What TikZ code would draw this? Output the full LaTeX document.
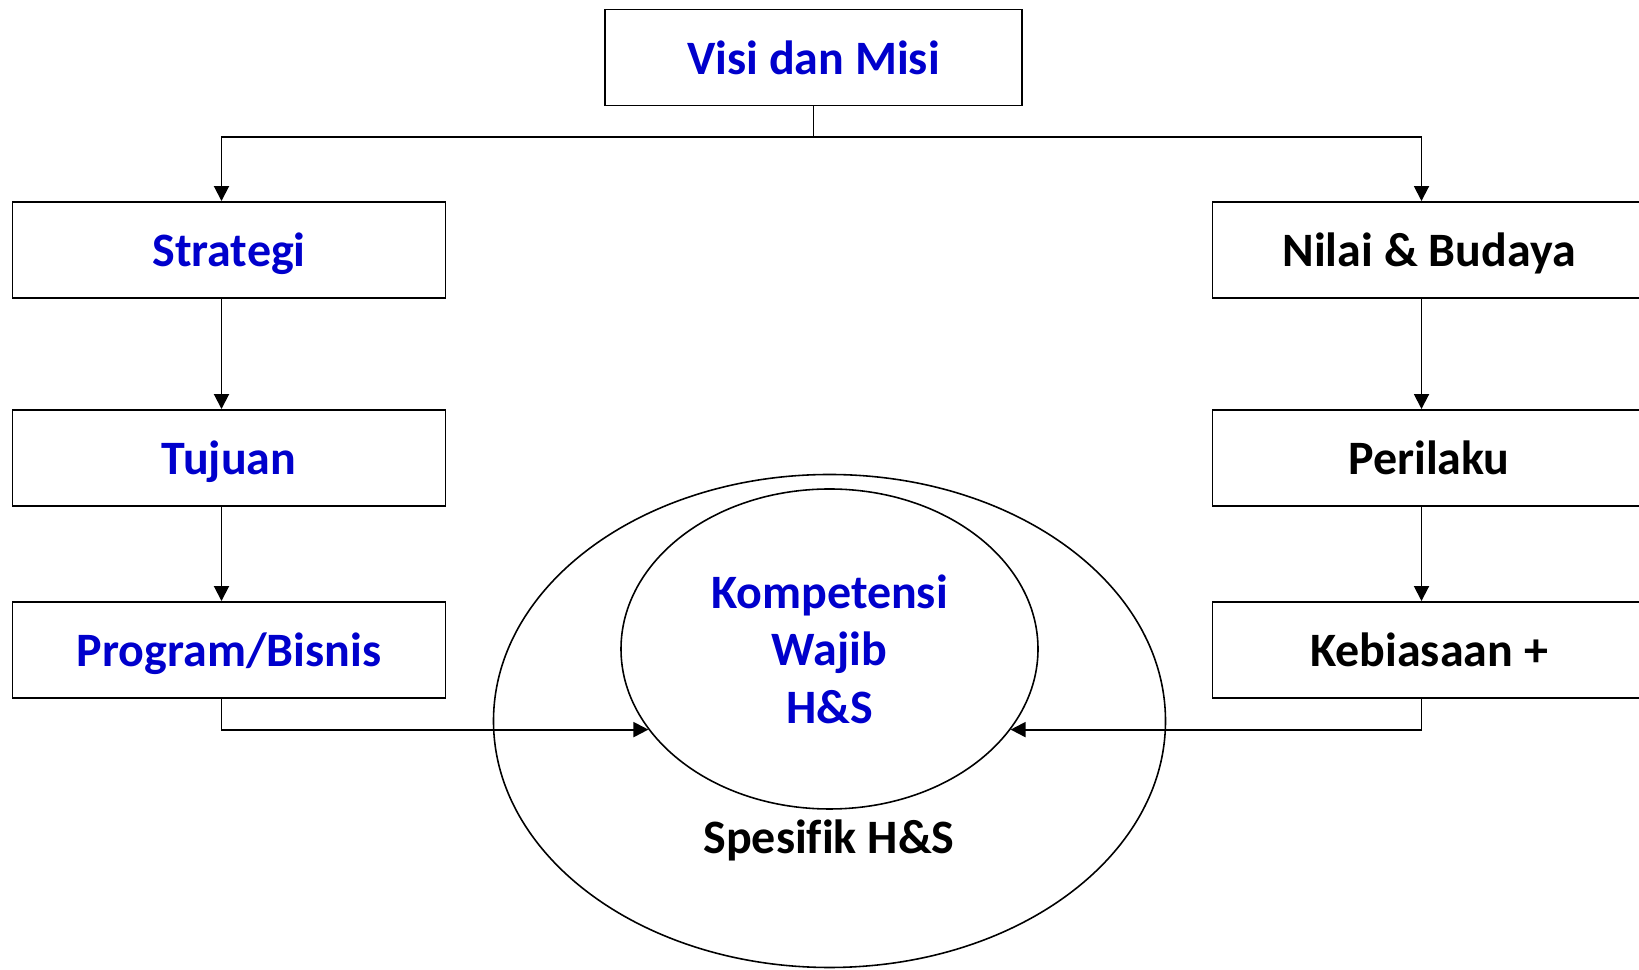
\documentclass[tikz,border=0pt]{standalone}
\usepackage{fontspec}
\setmainfont{Carlito}[Ligatures=NoCommon]
\usepackage{tikz}
\usetikzlibrary{arrows.meta, shapes.geometric}
\definecolor{textblue}{RGB}{0,0,204}

\begin{document}
\begin{tikzpicture}[
        box/.style={draw, line width=1.1pt, minimum width=8.66cm, minimum height=1.92cm,
            text height=19pt, text depth=0pt, font=\fontsize{27.3}{32.8}\selectfont\bfseries},
        link/.style={line width=1.1pt, -{Triangle[width=0.3cm, length=0.3cm]}}
    ]
        \clip (0, 0) rectangle (32.78, 19.4);
        % Boxes
        \node [box, minimum width=8.34cm, text=textblue] (visi) at (16.27, 18.25) {Visi dan Misi};
        \node [box, text=textblue] (strategi) at (4.58, 14.40) {Strategi};
        \node [box, text=textblue] (tujuan) at (4.58, 10.24) {Tujuan};
        \node [box, text=textblue] (program) at (4.58, 6.40) {Program/Bisnis};
        \node [box] (nilai) at (28.58, 14.40) {Nilai \& Budaya};
        \node [box] (perilaku) at (28.58, 10.24) {Perilaku};
        \node [box] (kebiasaan) at (28.58, 6.40) {Kebiasaan +};
        % Ellipses
        \node [draw, ellipse, line width=0.9pt, inner sep=0, minimum width=13.44cm,
            minimum height=9.86cm] (ring) at (16.59, 4.98) {};
        \node [draw, ellipse, line width=0.9pt, inner sep=0, minimum width=8.34cm,
            minimum height=6.4cm, align=center, text=textblue,
            font=\fontsize{27.3}{32.8}\selectfont\bfseries] (kompetensi) at (16.59, 6.42)
            {Kompetensi\\Wajib\\H\&S};
        \node [font=\fontsize{27.3}{32.8}\selectfont\bfseries] (spesifik) at (16.58, 2.60) {Spesifik H\&S};
        % Arrows
        \coordinate (split) at (16.27, 16.66);
        \draw [line width=1.1pt] (visi.south) -- (split);
        \draw [link] (split) -| ([xshift=-0.15cm]strategi.north);
        \draw [link] (split) -| ([xshift=-0.15cm]nilai.north);
        \draw [link] ([xshift=-0.15cm]strategi.south) -- ([xshift=-0.15cm]tujuan.north);
        \draw [link] ([xshift=-0.15cm]tujuan.south) -- ([xshift=-0.15cm]program.north);
        \draw [link] ([xshift=-0.15cm]nilai.south) -- ([xshift=-0.15cm]perilaku.north);
        \draw [link] ([xshift=-0.15cm]perilaku.south) -- ([xshift=-0.15cm]kebiasaan.north);
        \draw [link] ([xshift=-0.15cm]program.south) |- (kompetensi.204);
        \draw [link] ([xshift=-0.15cm]kebiasaan.south) |- (kompetensi.336);
    \end{tikzpicture}
\end{document}
